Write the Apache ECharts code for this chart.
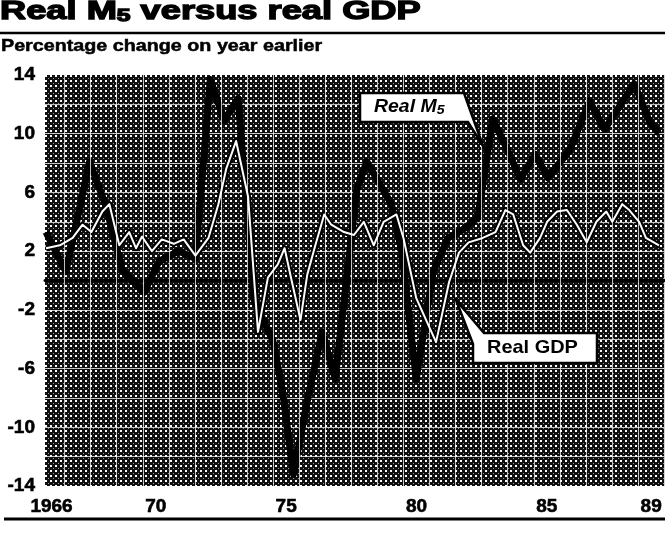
<!DOCTYPE html>
<html><head><meta charset="utf-8">
<script src="https://cdn.jsdelivr.net/npm/echarts@6/dist/echarts.min.js"></script>
<style>html,body{margin:0;padding:0;background:#fff}#c{width:665px;height:539px}</style>
</head><body><div id="c"></div>
<script>
// ---- data ----
const m5Years = [1965.79, 1966.55, 1967.46, 1968.10, 1968.71, 1969.55, 1970.12, 1970.88, 1971.52, 1972.09, 1972.62, 1973.16, 1973.76, 1974.49, 1974.86, 1975.28, 1975.81, 1976.38, 1976.88, 1977.71, 1978.09, 1979.04, 1979.42, 1979.99, 1980.64, 1981.21, 1981.89, 1982.35, 1982.92, 1983.49, 1983.98, 1984.55, 1985.04, 1985.88, 1986.64, 1987.21, 1988.35, 1988.92, 1989.30];
const m5Values = [3.3, 0.6, 8.1, 5.0, 0.7, -0.8, 1.3, 2.0, 1.5, 13.7, 10.9, 12.4, -1.3, -4.1, -7.5, -13.2, -8.2, -3.5, -6.7, 6.2, 8.1, 5.2, 2.1, -6.7, 0.6, 2.9, 3.6, 4.3, 11.0, 8.9, 6.9, 8.6, 7.0, 8.9, 12.2, 10.3, 13.4, 10.9, 10.0];
const gdpYears = [1965.79, 1966.32, 1966.81, 1967.19, 1967.53, 1967.95, 1968.22, 1968.60, 1968.98, 1969.24, 1969.47, 1969.85, 1970.23, 1970.69, 1971.07, 1971.52, 1972.02, 1972.40, 1972.70, 1973.08, 1973.54, 1973.92, 1974.30, 1974.68, 1974.94, 1975.21, 1975.55, 1975.81, 1976.12, 1976.46, 1976.73, 1977.22, 1977.60, 1977.98, 1978.36, 1978.74, 1979.23, 1979.50, 1979.99, 1980.75, 1981.25, 1981.63, 1982.00, 1982.54, 1983.03, 1983.41, 1983.71, 1984.09, 1984.36, 1984.74, 1985.01, 1985.39, 1985.77, 1986.15, 1986.53, 1986.90, 1987.28, 1987.51, 1987.89, 1988.16, 1988.54, 1988.80, 1989.30];
const gdpValues = [2.2, 2.4, 2.9, 3.8, 3.3, 4.7, 5.2, 2.4, 3.3, 2.2, 3.0, 2.0, 2.8, 2.5, 2.8, 1.7, 2.9, 5.2, 7.6, 9.5, 5.7, -3.5, 0.2, 1.1, 2.2, 0.0, -2.7, 0.4, 2.4, 4.5, 3.8, 3.3, 3.1, 4.0, 2.4, 4.0, 4.5, 2.9, -1.2, -4.2, -0.1, 1.9, 2.6, 2.9, 3.3, 4.8, 4.5, 2.4, 1.9, 2.9, 4.0, 4.7, 4.8, 3.8, 2.6, 4.0, 4.7, 4.0, 5.2, 4.8, 4.0, 2.9, 2.4];
const yTickLabels = [-14, -10, -6, -2, 2, 6, 10, 14];
const xTickYears = [1966, 1970, 1975, 1980, 1985, 1989];
const xTickLabels = ['1966', '70', '75', '80', '85', '89'];

function halftone() {
  const c = document.createElement('canvas');
  c.width = 5; c.height = 5;
  const g = c.getContext('2d');
  g.fillStyle = '#101010'; g.fillRect(0, 0, 5, 5);
  g.fillStyle = '#ffffff';
  g.fillRect(0, 0, 2, 2);
  g.fillStyle = '#9a9a9a';
  g.fillRect(3, 3, 1, 1);
  return c;
}
const pairs = (xs, vs) => xs.map((x, i) => [x, vs[i]]);
const FONT = 'Liberation Sans';
const yearGrid = [];
for (let y = 1966; y <= 1988; y++) yearGrid.push({ xAxis: y + 0.5 });

const chart = echarts.init(document.getElementById('c'));
chart.setOption({
  animation: false,
  backgroundColor: '#ffffff',
  grid: {
    left: 45, right: 0, top: 75, bottom: 53, show: true, borderWidth: 0,
    backgroundColor: { image: halftone(), repeat: 'repeat' }
  },
  xAxis: [{
    type: 'value', min: 1965.75, max: 1989.5,
    axisLine: { show: false }, axisTick: { show: false }, splitLine: { show: false },
    axisLabel: {
      customValues: xTickYears,
      margin: 11, color: '#000', fontFamily: FONT, fontWeight: 'bold', fontSize: 19,
      textBorderColor: '#000', textBorderWidth: 0.6,
      formatter: v => { const i = xTickYears.indexOf(Math.round(v)); return i >= 0 ? xTickLabels[i] : ''; }
    }
  }, {
    type: 'value', min: 1965.75, max: 1989.5, position: 'bottom',
    axisLine: { show: true, onZero: true, onZeroAxisIndex: 0, lineStyle: { color: '#000', width: 3 } },
    axisTick: { show: false }, axisLabel: { show: false }, splitLine: { show: false }
  }],
  yAxis: {
    type: 'value', min: -14, max: 14, interval: 2,
    axisLine: { show: false }, axisTick: { show: false },
    axisLabel: {
      margin: 10, color: '#000', fontFamily: FONT, fontWeight: 'bold', fontSize: 19,
      textBorderColor: '#000', textBorderWidth: 0.6,
      formatter: v => yTickLabels.indexOf(v) >= 0 ? String(v) : ''
    },
    splitLine: { show: true, showMinLine: false, showMaxLine: false, lineStyle: { color: 'rgba(255,255,255,0.75)', width: 1 } }
  },
  series: [{
    name: 'grid', type: 'line', xAxisIndex: 0, data: [], silent: true, z: 1,
    markLine: {
      silent: true, symbol: 'none', label: { show: false },
      lineStyle: { color: 'rgba(255,255,255,0.75)', width: 1, type: 'solid' },
      data: yearGrid
    }
  }, {
    name: 'Real M5', type: 'line', xAxisIndex: 0, data: pairs(m5Years, m5Values),
    showSymbol: false, symbol: 'none', z: 3, silent: true,
    lineStyle: { color: '#000', width: 7, join: 'round' }
  }, {
    name: 'Real GDP outline', type: 'line', xAxisIndex: 0, data: pairs(gdpYears, gdpValues),
    showSymbol: false, symbol: 'none', z: 4, silent: true,
    lineStyle: { color: '#000', width: 6, join: 'round' }
  }, {
    name: 'Real GDP', type: 'line', xAxisIndex: 0, data: pairs(gdpYears, gdpValues),
    showSymbol: false, symbol: 'none', z: 5, silent: true,
    lineStyle: { color: '#fff', width: 2, join: 'round' }
  }],
  graphic: [
    { type: 'text', x: 0, y: -2, scaleX: 1.45, z: 10,
      style: { text: '{a|Real M}{s|5}{a| versus real GDP}', verticalAlign: 'top', rich: {
        a: { fontFamily: FONT, fontWeight: 'bold', fontSize: 25, fill: '#000', stroke: '#000', lineWidth: 1.3, lineHeight: 28 },
        s: { fontFamily: FONT, fontWeight: 'bold', fontSize: 17, fill: '#000', stroke: '#000', lineWidth: 1.3, lineHeight: 28, padding: [9, 0, 0, 0] } } } },
    { type: 'line', shape: { x1: 0, y1: 33, x2: 665, y2: 33 }, style: { stroke: '#000', lineWidth: 2.5 } },
    { type: 'text', x: 1, y: 38, scaleX: 1.16, z: 10,
      style: { text: 'Percentage change on year earlier', verticalAlign: 'top', fontFamily: FONT, fontWeight: 'bold', fontSize: 17, fill: '#000', stroke: '#000', lineWidth: 0.5 } },
    { type: 'line', shape: { x1: 4, y1: 519, x2: 665, y2: 519 }, style: { stroke: '#000', lineWidth: 3 } },
    { type: 'polygon', z: 100,
      shape: { points: [[360, 93], [464, 93], [483, 146], [468, 122], [360, 122]] },
      style: { fill: '#fff', stroke: '#000', lineWidth: 2.5 } },
    { type: 'text', z: 101, x: 374, y: 97, scaleX: 1.08,
      style: { text: '{a|Real M}{s|5}', verticalAlign: 'top', rich: {
        a: { fontFamily: FONT, fontWeight: 'bold', fontStyle: 'italic', fontSize: 18, fill: '#000', lineHeight: 20 },
        s: { fontFamily: FONT, fontWeight: 'bold', fontStyle: 'italic', fontSize: 13, fill: '#000', lineHeight: 20, padding: [6, 0, 0, 0] } } } },
    { type: 'polygon', z: 100,
      shape: { points: [[484, 333], [597, 333], [597, 363], [473, 363], [473, 344], [456, 300]] },
      style: { fill: '#fff', stroke: '#000', lineWidth: 2.5 } },
    { type: 'text', z: 101, x: 487, y: 338, scaleX: 1.05,
      style: { text: 'Real GDP', verticalAlign: 'top', fontFamily: FONT, fontWeight: 'bold', fontSize: 19, fill: '#000' } }
  ]
});
</script></body></html>
